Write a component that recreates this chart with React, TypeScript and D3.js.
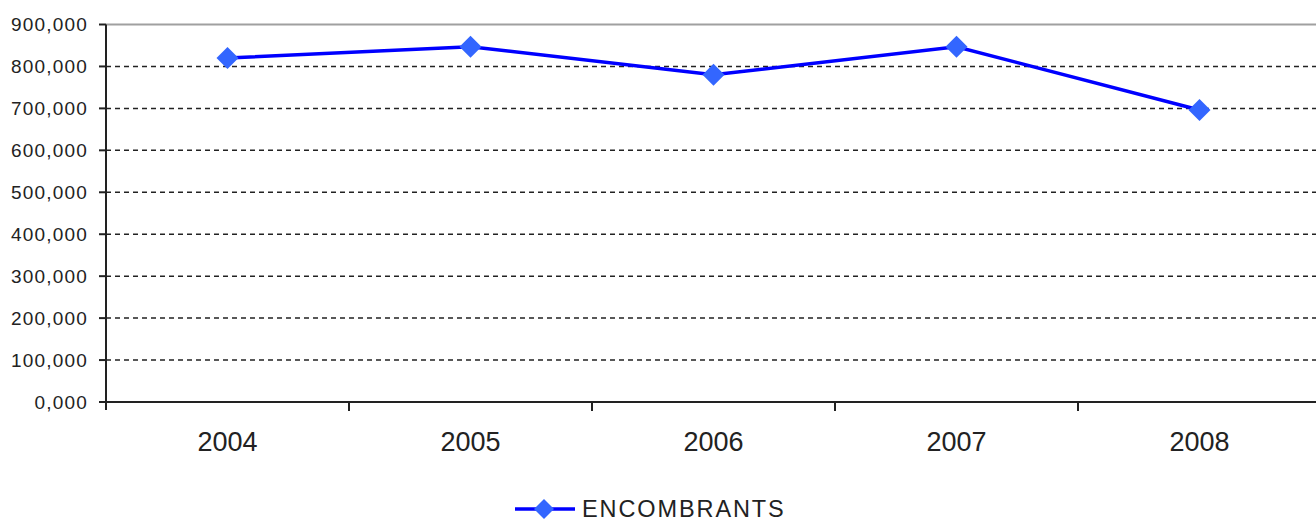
import React, { useEffect, useRef } from "react";
import * as d3 from "d3";

const years = ["2004", "2005", "2006", "2007", "2008"];
const encombrants = [820000, 847000, 780000, 847000, 696000];
const yTicks = [0, 100000, 200000, 300000, 400000, 500000, 600000, 700000, 800000, 900000];
const yTickLabels = ["0,000", "100,000", "200,000", "300,000", "400,000", "500,000", "600,000", "700,000", "800,000", "900,000"];
const seriesName = "ENCOMBRANTS";

export default function App() {
	const ref = useRef<SVGSVGElement>(null);

	useEffect(() => {
		const svg = d3.select(ref.current);
		svg.selectAll("*").remove();

		var left = 106,
			right = 1321,
			top = 24.5,
			bottom = 402;

		var x = d3.scaleBand().domain(years).range([left, right]);
		var y = d3.scaleLinear().domain([0, 900000]).range([bottom, top]);

		svg.append("rect").attr("width", 1316).attr("height", 520).attr("fill", "#fff");

		// gridlines
		svg
			.selectAll("line.grid")
			.data(yTicks.filter((t) => t > 0))
			.enter()
			.append("line")
			.attr("class", "grid")
			.attr("x1", left)
			.attr("x2", 1316)
			.attr("y1", (d) => y(d))
			.attr("y2", (d) => y(d))
			.attr("stroke", (d) => (d === 900000 ? "#a0a0a0" : "#222"))
			.attr("stroke-width", (d) => (d === 900000 ? 2 : 1.5))
			.attr("stroke-dasharray", (d) => (d === 900000 ? null : "5,4"));

		// y axis
		svg
			.append("line")
			.attr("x1", left)
			.attr("x2", left)
			.attr("y1", top)
			.attr("y2", bottom + 8)
			.attr("stroke", "#222")
			.attr("stroke-width", 2);
		svg
			.selectAll("line.ytick")
			.data(yTicks)
			.enter()
			.append("line")
			.attr("x1", left - 7)
			.attr("x2", left)
			.attr("y1", (d) => y(d))
			.attr("y2", (d) => y(d))
			.attr("stroke", "#222")
			.attr("stroke-width", 2);
		svg
			.selectAll("text.ylab")
			.data(yTicks)
			.enter()
			.append("text")
			.attr("x", 88)
			.attr("y", (d) => y(d))
			.attr("dy", "0.35em")
			.attr("text-anchor", "end")
			.attr("font-family", "Liberation Sans, Arial, sans-serif")
			.attr("font-size", 19)
			.attr("letter-spacing", 1.2)
			.attr("fill", "#222")
			.text((d, i) => yTickLabels[i]);

		// x axis
		svg
			.append("line")
			.attr("x1", left)
			.attr("x2", 1316)
			.attr("y1", bottom)
			.attr("y2", bottom)
			.attr("stroke", "#222")
			.attr("stroke-width", 2);
		var bounds = years.map((d) => x(d) as number).concat([right]);
		svg
			.selectAll("line.xtick")
			.data(bounds.slice(1))
			.enter()
			.append("line")
			.attr("x1", (d) => d)
			.attr("x2", (d) => d)
			.attr("y1", bottom)
			.attr("y2", bottom + 9)
			.attr("stroke", "#222")
			.attr("stroke-width", 2);
		svg
			.selectAll("text.xlab")
			.data(years)
			.enter()
			.append("text")
			.attr("x", (d) => (x(d) as number) + x.bandwidth() / 2)
			.attr("y", 451)
			.attr("text-anchor", "middle")
			.attr("font-family", "Liberation Sans, Arial, sans-serif")
			.attr("font-size", 27)
			.attr("fill", "#222")
			.text((d) => d);

		// series line
		var line = d3
			.line<number>()
			.x((d, i) => (x(years[i]) as number) + x.bandwidth() / 2)
			.y((d) => y(d));
		svg
			.append("path")
			.datum(encombrants)
			.attr("d", line)
			.attr("fill", "none")
			.attr("stroke", "#0000ff")
			.attr("stroke-width", 3.5);

		var diamond = (cx: number, cy: number, r: number) =>
			`M ${cx} ${cy - r} L ${cx + r} ${cy} L ${cx} ${cy + r} L ${cx - r} ${cy} Z`;

		svg
			.selectAll("path.marker")
			.data(encombrants)
			.enter()
			.append("path")
			.attr("class", "marker")
			.attr("d", (d, i) => diamond((x(years[i]) as number) + x.bandwidth() / 2, y(d), 11))
			.attr("fill", "#3366ff");

		// legend
		svg
			.append("line")
			.attr("x1", 515)
			.attr("x2", 575)
			.attr("y1", 509)
			.attr("y2", 509)
			.attr("stroke", "#0000ff")
			.attr("stroke-width", 3.5);
		svg.append("path").attr("d", diamond(544, 509, 10)).attr("fill", "#3366ff");
		svg
			.append("text")
			.attr("x", 582)
			.attr("y", 517)
			.attr("font-family", "Liberation Sans, Arial, sans-serif")
			.attr("font-size", 23.5)
			.attr("letter-spacing", 1.9)
			.attr("fill", "#222")
			.text(seriesName);
	}, []);

	return (
		<svg
			ref={ref}
			width={1316}
			height={520}
			style={{ position: "absolute", left: 0, top: 0 }}
		/>
	);
}
